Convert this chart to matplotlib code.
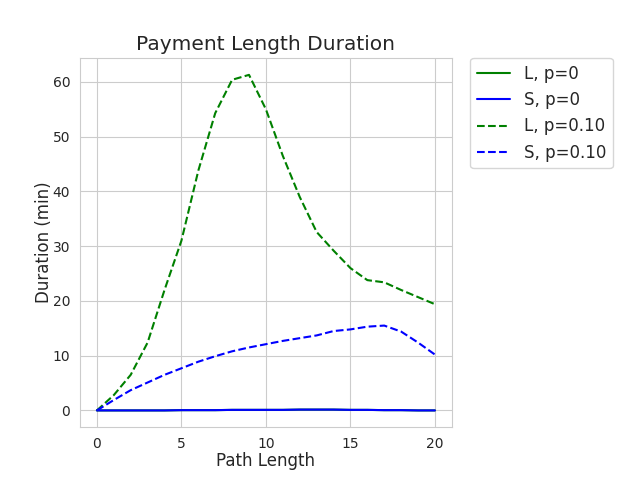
import matplotlib
matplotlib.use("Agg")
import matplotlib.pyplot as plt
import seaborn as sns

sns.set_style("whitegrid")

# Path length 0..20
path_len = list(range(21))

# duration (min)
L_p0 = [0, 0.0, 0.0, 0.0, 0.0, 0.05, 0.05, 0.05, 0.1, 0.1, 0.1, 0.1, 0.15, 0.15, 0.15, 0.1, 0.1, 0.05, 0.05, 0.0, 0.0]
S_p0 = [0, 0.0, 0.0, 0.0, 0.0, 0.05, 0.05, 0.05, 0.1, 0.1, 0.1, 0.1, 0.15, 0.15, 0.15, 0.1, 0.1, 0.05, 0.05, 0.0, 0.0]
L_p10 = [0, 2.8, 6.5, 12.4, 22.0, 31.0, 43.8, 54.3, 60.4, 61.3, 55.0, 46.5, 39.0, 32.6, 29.2, 26.0, 23.8, 23.4, 22.0, 20.7, 19.4]
S_p10 = [0, 1.9, 3.7, 5.1, 6.5, 7.7, 8.9, 9.9, 10.8, 11.5, 12.1, 12.7, 13.2, 13.7, 14.5, 14.8, 15.3, 15.5, 14.4, 12.4, 10.2]

fig, ax = plt.subplots(figsize=(6.4, 4.8), dpi=100)
fig.subplots_adjust(left=0.125, right=0.706, bottom=0.11, top=0.879)

ax.plot(path_len, L_p0, color='g', linestyle='-', label='L, p=0')
ax.plot(path_len, S_p0, color='b', linestyle='-', label='S, p=0')
ax.plot(path_len, L_p10, color='g', linestyle='--', label='L, p=0.10')
ax.plot(path_len, S_p10, color='b', linestyle='--', label='S, p=0.10')

ax.set_xticks([0, 5, 10, 15, 20])
ax.set_title('Payment Length Duration', fontsize=14.5, pad=6)
ax.set_xlabel('Path Length', fontsize=12, labelpad=1)
ax.set_ylabel('Duration (min)', fontsize=12, labelpad=0)
ax.legend(bbox_to_anchor=(1.05, 1.0), loc='upper left', borderaxespad=0.,
          fontsize=12, frameon=True)

fig.savefig('out.png')
